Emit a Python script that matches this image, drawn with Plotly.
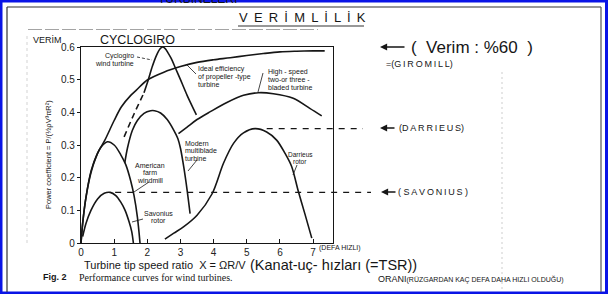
import plotly.graph_objects as go

# ---------------- data ----------------
ideal_x = [0, 0.06, 0.15, 0.31, 0.5, 0.72, 1.0, 1.22, 1.5, 1.67, 2.0, 2.5, 3.0, 3.5, 4.0, 4.5, 5.0, 5.5, 6.0, 6.5, 7.0, 7.35]
ideal_y = [0, 0.07, 0.14, 0.223, 0.275, 0.315, 0.375, 0.417, 0.452, 0.468, 0.499, 0.523, 0.54, 0.553, 0.561, 0.567, 0.574, 0.58, 0.585, 0.587, 0.588, 0.588]

cyclo_dash_x = [1.3, 1.6, 1.9]
cyclo_dash_y = [0.325, 0.395, 0.46]
cyclo_x = [1.9, 2.03, 2.15, 2.28, 2.38, 2.46, 2.54, 2.62, 2.72, 2.85, 3.0, 3.2, 3.48]
cyclo_y = [0.46, 0.5, 0.54, 0.575, 0.594, 0.6, 0.595, 0.583, 0.565, 0.535, 0.5, 0.452, 0.392]

multi_x = [1.32, 1.4, 1.55, 1.7, 1.9, 2.1, 2.22, 2.4, 2.6, 2.8, 2.92, 3.0, 3.1, 3.2, 3.29]
multi_y = [0.245, 0.29, 0.345, 0.375, 0.397, 0.405, 0.405, 0.398, 0.378, 0.345, 0.32, 0.29, 0.232, 0.162, 0.09]

american_x = [0, 0.05, 0.15, 0.3, 0.45, 0.6, 0.8, 1.0, 1.2, 1.35, 1.5, 1.6, 1.7, 1.78]
american_y = [0, 0.06, 0.14, 0.215, 0.262, 0.293, 0.31, 0.3, 0.27, 0.24, 0.19, 0.145, 0.08, 0]

savonius_x = [0.05, 0.15, 0.3, 0.5, 0.7, 0.88, 1.05, 1.2, 1.33, 1.45, 1.53, 1.58]
savonius_y = [0.02, 0.06, 0.1, 0.135, 0.152, 0.155, 0.145, 0.125, 0.1, 0.065, 0.035, 0]

highspeed_x = [2.94, 3.2, 3.5, 3.9, 4.4, 4.9, 5.35, 5.8, 6.4, 6.9, 7.26]
highspeed_y = [0.335, 0.355, 0.378, 0.402, 0.43, 0.452, 0.46, 0.457, 0.443, 0.412, 0.389]

darrieus_x = [2.53, 2.8, 3.1, 3.5, 3.95, 4.3, 4.6, 4.9, 5.25, 5.6, 5.9, 6.15, 6.35, 6.55, 6.75, 6.96]
darrieus_y = [0.012, 0.03, 0.05, 0.085, 0.15, 0.245, 0.305, 0.337, 0.35, 0.34, 0.315, 0.275, 0.235, 0.16, 0.09, 0.015]

darrieus_level = 0.35      # dashed reference level
darrieus_level_from = 5.6
savonius_level = 0.155
savonius_level_from = 1.03

x_ticks = [0, 1, 2, 3, 4, 5, 6, 7]
x_ticktext = ["0", "1", "2", "3", "4", "5", "6", "7"]
y_ticks = [0, 0.1, 0.2, 0.3, 0.4, 0.5, 0.6]
y_ticktext = ["0", "0.1", "0.2", "0.3", "0.4", "0.5", "0.6"]
X_MAX = 7.6
Y_MAX = 0.6

# ---------------- layout geometry ----------------
W, H = 608, 294
ML, MR, MT, MB = 81, 275, 47, 51
PW, PH = W - ML - MR, H - MT - MB
SANS = "Liberation Sans"
SERIF = "Liberation Serif"
INK = "#161616"


def xp(px):
    return (px - ML) / PW


def yp(py):
    return (MT + PH - py) / PH


fig = go.Figure()

curve_style = dict(color=INK, width=1.6)


def add_curve(xs, ys, dash=None, smoothing=0.9):
    ln = dict(curve_style)
    if dash:
        ln["dash"] = dash
    fig.add_trace(go.Scatter(x=xs, y=ys, mode="lines", line=ln,
                             line_shape="spline", line_smoothing=smoothing,
                             hoverinfo="skip"))


add_curve(ideal_x, ideal_y)
add_curve(cyclo_dash_x, cyclo_dash_y, dash="6px,4px")
add_curve(cyclo_x, cyclo_y, smoothing=0.7)
add_curve(multi_x, multi_y)
add_curve(american_x, american_y)
add_curve(savonius_x, savonius_y)
add_curve(highspeed_x, highspeed_y)
add_curve(darrieus_x, darrieus_y)

shapes = []
annotations = []


def hline_level(level, x_from, px_to):
    shapes.append(dict(type="line", xref="paper", yref="paper",
                       x0=x_from / X_MAX, x1=xp(px_to),
                       y0=level / Y_MAX, y1=level / Y_MAX,
                       line=dict(color=INK, width=1.1, dash="6px,6px")))


hline_level(darrieus_level, darrieus_level_from, 363)
hline_level(savonius_level, savonius_level_from, 371)


def pline(x0, y0, x1, y1, color=INK, width=1.0, dash=None):
    ln = dict(color=color, width=width)
    if dash:
        ln["dash"] = dash
    shapes.append(dict(type="line", xref="paper", yref="paper",
                       x0=xp(x0), y0=yp(y0), x1=xp(x1), y1=yp(y1), line=ln))


# page border (blue) and scan frame
shapes.append(dict(type="rect", xref="paper", yref="paper",
                   x0=xp(1), x1=xp(606.5), y0=yp(1), y1=yp(293),
                   line=dict(color="#0a14e6", width=3)))
pline(7, 7, 601, 7, color="#333", width=1.2)
pline(7, 7, 7, 292, color="#333", width=1.2)
pline(601, 7, 601, 292, color="#555", width=1.2)
pline(27, 36, 27, 246, color="#c8c8c8", width=0.8, dash="3px,3px")
pline(502, 72, 502, 291, color="#c0c0c0", width=0.8, dash="2px,3px")
pline(28, 29.5, 318, 29.5, color="#9a9a9a", width=0.9, dash="14px,3px")
pline(238, 26, 364, 26, color="#333", width=1.1)

# leader lines for curve labels
pline(137, 57, 152, 60, width=0.8, dash="3px,2px")
pline(196, 74, 186, 64, width=0.8)
pline(263, 73, 258, 92, width=0.8)
pline(197, 160, 188, 171, width=0.8)
pline(149, 182, 134, 192, width=0.8)
pline(143, 219, 132, 222, width=0.8)
pline(297, 165, 293, 175, width=0.8)


def txt(px, py, s, size, xanchor="center", yanchor="middle", family=SANS,
        color=INK, angle=0):
    annotations.append(dict(x=xp(px), y=yp(py), xref="paper", yref="paper",
                            text=s, showarrow=False, xanchor=xanchor,
                            yanchor=yanchor, textangle=angle, borderpad=0,
                            font=dict(family=family, size=size, color=color)))


def lines(px, py0, rows, size=7, step=7.6, xanchor="left"):
    for i, r in enumerate(rows):
        txt(px, py0 + i * step, r, size, xanchor=xanchor)


def arrow(px_tip, py, length):
    annotations.append(dict(x=xp(px_tip), y=yp(py), xref="paper", yref="paper",
                            text="", showarrow=True, ax=length, ay=0,
                            arrowhead=2, arrowsize=1.1, arrowwidth=1.3,
                            arrowcolor=INK, standoff=0))


TS = "\u2009"

# curve labels
lines(135, 56, ["Cyclogiro", "wind turbine"], xanchor="right")
lines(197, 69, ["Ideal efficiency", "of propeller -type", "turbine"])
lines(267, 72, ["High - speed", "two-or three -", "bladed turbine"])
lines(184, 143, ["Modern", "multiblade", "turbine"])
lines(150, 165, ["American", "farm", "windmill"], xanchor="center")
lines(158, 213, ["Savonius", "rotor"], xanchor="center")
lines(300, 154, ["Darrieus", "rotor"], xanchor="center", size=6.5)

# headings and hand-written notes
txt(197, 7, "TURBİNELERİ", 12, yanchor="bottom")
txt(238, 18, (" " + TS).join("VERİMLİLİK"), 13, xanchor="left")
txt(137, 40, "CYCLOGIRO", 12.5)
txt(47, 40, "VERİM", 9)
txt(410, 47, "(  Verim : %60  )", 17, xanchor="left")
arrow(380, 47, 26)
txt(385, 64, "=(" + TS.join("GIROMILL") + ")", 9, xanchor="left")
arrow(380, 128, 16)
txt(398, 128, "(" + TS.join("DARRIEUS") + ")", 9, xanchor="left")
arrow(381, 192, 16)
txt(397, 192, "( " + TS.join("SAVONIUS") + " )", 9, xanchor="left")

# axis titles / captions
txt(247, 264.5, "Turbine tip speed ratio  X = ΩR/V", 11, xanchor="right")
txt(48, 155, "Power coefficient = P/(½ρV³πR²)", 7.5, angle=-90)
txt(249, 265, "(Kanat-uç- hızları (=TSR))", 14.5, xanchor="left")
txt(318, 248, "(DEFA HIZLI)", 7, xanchor="left")
txt(377, 279, "ORANI<span style='font-size:7px'>(RÜZGARDAN KAÇ DEFA DAHA HIZLI OLDUĞU)</span>",
    9, xanchor="left")
txt(42, 277, "<b>Fig. 2</b>", 9, xanchor="left")
txt(78, 277, "Performance curves for wind turbines.", 10, xanchor="left", family=SERIF)

fig.update_layout(
    width=W, height=H, autosize=False,
    margin=dict(l=ML, r=MR, t=MT, b=MB, autoexpand=False),
    paper_bgcolor="white", plot_bgcolor="white", showlegend=False,
    shapes=shapes, annotations=annotations,
)
axis_common = dict(showline=True, linecolor=INK, linewidth=1.3, mirror=True,
                   showgrid=False, zeroline=False, tickcolor=INK,
                   tickfont=dict(family=SANS, size=10, color="#222"))
fig.update_xaxes(range=[0, X_MAX], tickvals=x_ticks, ticktext=x_ticktext,
                 ticks="inside", ticklen=4, **axis_common)
fig.update_yaxes(range=[0, Y_MAX], tickvals=y_ticks, ticktext=y_ticktext,
                 ticks="outside", ticklen=3, **axis_common)

fig.write_html("out.html")
